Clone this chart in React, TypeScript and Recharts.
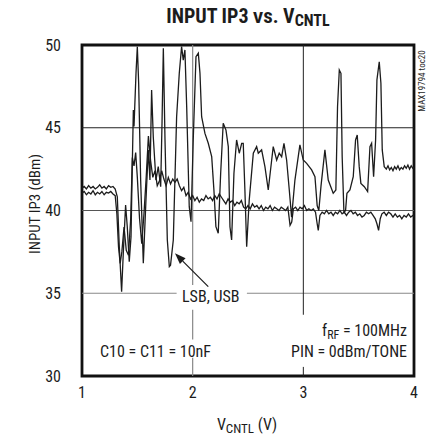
import React from "react";
import {
  LineChart,
  Line,
  XAxis,
  YAxis,
  ReferenceLine,
  ReferenceArea,
} from "recharts";

// V_CNTL (V), input IP3 (dBm)
const upperFlat = [
  [1.0, 41.35], [1.02, 41.45], [1.04, 41.3], [1.06, 41.5], [1.08, 41.35], [1.1, 41.45],
  [1.12, 41.3], [1.14, 41.4], [1.16, 41.55], [1.18, 41.35], [1.2, 41.45], [1.22, 41.3],
  [1.24, 41.5], [1.26, 41.4], [1.28, 41.45], [1.3, 41.3],
];
const upperSpikes = [
  [1.319, 40.83], [1.337, 37.81], [1.358, 35.09], [1.373, 37.41], [1.394, 40.33], [1.409, 39.02],
  [1.427, 36.91], [1.443, 38.42], [1.452, 41.84], [1.464, 46.07], [1.47, 45.07], [1.488, 48.29],
  [1.5, 49.9], [1.512, 47.69], [1.53, 41.84], [1.554, 36.81], [1.578, 40.63], [1.599, 43.66],
  [1.614, 41.84], [1.629, 47.28], [1.644, 44.46], [1.668, 41.84], [1.689, 42.65], [1.711, 41.44],
  [1.723, 45.27], [1.735, 49.8], [1.75, 44.26], [1.771, 38.22], [1.789, 36.61], [1.8, 36.7],
  [1.825, 38.22], [1.855, 45.67], [1.879, 48.29], [1.9, 49.9], [1.915, 49.09], [1.93, 49.7],
  [1.946, 46.27], [1.969, 40.23], [1.985, 39.32], [2.005, 44.26], [2.03, 49.29], [2.051, 49.5],
  [2.066, 48.29], [2.081, 45.67], [2.111, 44.66], [2.141, 44.06], [2.172, 43.25], [2.192, 41.24],
  [2.21, 39.02], [2.231, 38.62], [2.253, 42.25], [2.276, 45.27], [2.301, 44.86], [2.322, 43.86],
  [2.337, 39.02], [2.352, 38.22], [2.373, 42.25], [2.397, 44.26], [2.421, 43.46], [2.443, 44.06],
  [2.457, 44.06], [2.472, 41.24], [2.488, 37.81], [2.511, 40.63],
];
const upperMid = [
  [2.548, 43.46], [2.578, 43.86], [2.593, 43.46], [2.623, 43.66], [2.653, 42.65], [2.683, 41.24],
  [2.714, 43.05], [2.728, 43.86], [2.759, 43.05], [2.782, 43.46], [2.804, 43.25], [2.825, 44.06],
  [2.849, 43.05], [2.873, 41.24], [2.894, 39.6], [2.924, 41.84], [2.969, 43.96], [2.999, 43.05],
  [3.03, 42.85], [3.075, 42.45], [3.105, 42.04], [3.125, 40.3], [3.14, 40.0], [3.16, 41.5],
  [3.195, 43.66], [3.225, 41.84], [3.27, 41.04], [3.294, 41.24], [3.309, 46.27], [3.325, 48.49],
  [3.34, 48.29], [3.351, 43.25], [3.367, 39.83], [3.382, 40.03], [3.394, 41.04], [3.421, 41.24],
  [3.451, 42.04], [3.472, 44.26], [3.487, 44.56], [3.505, 42.65], [3.52, 41.64], [3.551, 41.44],
  [3.581, 41.14], [3.602, 43.86], [3.617, 44.06], [3.635, 42.04], [3.653, 44.26], [3.665, 47.89],
  [3.686, 48.99], [3.701, 47.69], [3.713, 43.66], [3.731, 42.65],
];
const upperTail = [
  [3.75, 42.5], [3.765, 42.7], [3.78, 42.45], [3.795, 42.6], [3.81, 42.4], [3.825, 42.65],
  [3.84, 42.5], [3.855, 42.7], [3.87, 42.45], [3.885, 42.6], [3.9, 42.5], [3.915, 42.7],
  [3.93, 42.55], [3.945, 42.75], [3.96, 42.5], [3.975, 42.7], [3.99, 42.55], [4.0, 42.6],
];

const lowerFlat = [
  [1.0, 41.05], [1.02, 41.15], [1.04, 40.95], [1.06, 41.1], [1.08, 41.0], [1.1, 41.2],
  [1.12, 40.95], [1.14, 41.1], [1.16, 41.0], [1.18, 41.15], [1.2, 40.95], [1.22, 41.1],
  [1.24, 41.05], [1.26, 41.15], [1.28, 41.0], [1.3, 40.9],
];
const lowerSpikes = [
  [1.315, 39.8], [1.33, 37.8], [1.345, 36.8], [1.36, 37.5], [1.38, 39.0], [1.4, 37.6],
  [1.42, 37.3], [1.44, 39.5], [1.455, 43.2], [1.47, 42.7], [1.485, 43.5], [1.5, 42.0],
  [1.52, 39.5], [1.54, 38.0], [1.56, 39.8], [1.58, 42.0], [1.6, 44.5], [1.62, 43.0],
  [1.64, 42.0], [1.66, 42.4], [1.68, 41.5], [1.7, 41.8], [1.72, 42.4], [1.74, 41.9],
  [1.76, 41.5], [1.78, 42.0], [1.8, 41.6], [1.82, 41.9], [1.84, 41.7], [1.86, 41.9],
  [1.88, 41.5], [1.9, 41.2], [1.92, 41.4], [1.94, 40.9], [1.96, 41.1], [1.98, 40.7],
];
const lowerMid = [
  [2.0, 40.9], [2.02, 40.6], [2.04, 40.8], [2.06, 40.5], [2.08, 40.7], [2.1, 40.6],
  [2.12, 40.9], [2.14, 40.7], [2.16, 40.8], [2.18, 40.6], [2.2, 40.9], [2.22, 40.7],
  [2.24, 41.0], [2.26, 40.8], [2.28, 40.6], [2.3, 40.4], [2.32, 40.7], [2.34, 40.5],
  [2.36, 40.6], [2.38, 40.3], [2.4, 40.5], [2.42, 40.4], [2.44, 40.6], [2.46, 40.2],
  [2.48, 40.1], [2.5, 40.3], [2.52, 40.1], [2.54, 40.4], [2.56, 40.2], [2.58, 40.3],
  [2.6, 40.1], [2.62, 40.3], [2.64, 40.0], [2.66, 40.2], [2.68, 40.1], [2.7, 40.3],
  [2.72, 40.0], [2.74, 40.2], [2.76, 40.1], [2.78, 40.0], [2.8, 40.2], [2.82, 40.1],
  [2.84, 40.0], [2.86, 40.2], [2.88, 39.1], [2.895, 39.3], [2.91, 40.1], [2.93, 40.2],
  [2.95, 40.0], [2.97, 40.2], [2.99, 40.1], [3.01, 40.3], [3.03, 40.0], [3.05, 40.1],
  [3.07, 40.0], [3.09, 40.1], [3.11, 39.9], [3.125, 39.2], [3.135, 38.8], [3.15, 39.7],
];
const lowerTail = [
  [3.17, 39.9], [3.19, 39.8], [3.21, 40.0], [3.23, 39.8], [3.25, 39.9], [3.27, 39.7],
  [3.29, 39.9], [3.31, 39.8], [3.33, 40.0], [3.35, 39.8], [3.37, 39.9], [3.39, 39.7],
  [3.41, 39.9], [3.43, 40.0], [3.45, 39.8], [3.47, 39.9], [3.49, 39.7], [3.51, 39.8],
  [3.53, 39.6], [3.55, 39.7], [3.57, 39.9], [3.59, 39.8], [3.61, 39.9], [3.63, 39.7],
  [3.65, 39.5], [3.665, 39.2], [3.68, 38.8], [3.695, 39.5], [3.71, 39.8], [3.73, 39.9],
  [3.75, 39.7], [3.77, 39.9], [3.79, 39.8], [3.81, 39.6], [3.83, 39.8], [3.85, 39.6],
  [3.87, 39.7], [3.89, 39.5], [3.91, 39.7], [3.93, 39.6], [3.95, 39.8], [3.97, 39.6],
  [3.99, 39.7], [4.0, 39.6],
];

const xTicks = [1, 2, 3, 4];
const yTicks = [30, 35, 40, 45, 50];

const toRows = (pts: number[][]) => pts.map(([v, db]) => ({ v, db }));
const upperData = toRows([...upperFlat, ...upperSpikes, ...upperMid, ...upperTail]);
const lowerData = toRows([...lowerFlat, ...lowerSpikes, ...lowerMid, ...lowerTail]);

const FONT =
  '"Liberation Sans Narrow", "Arial Narrow", "Roboto Condensed", "DejaVu Sans Condensed", sans-serif';
const INK = "#1c1c1c";

// leader line from the "LSB, USB" note to the curves
const Arrow = (props: any) => {
  const { x1, y1, x2, y2 } = props;
  const a = Math.atan2(y2 - y1, x2 - x1);
  const len = 11;
  const half = 4;
  const bx = x2 - len * Math.cos(a);
  const by = y2 - len * Math.sin(a);
  const px = -Math.sin(a) * half;
  const py = Math.cos(a) * half;
  return (
    <g>
      <line x1={x1} y1={y1} x2={bx} y2={by} stroke={INK} strokeWidth={1.3} />
      <polygon
        points={`${x2},${y2} ${bx + px},${by + py} ${bx - px},${by - py}`}
        fill={INK}
      />
    </g>
  );
};

const txt = (extra: React.CSSProperties): React.CSSProperties => ({
  position: "absolute",
  fontFamily: FONT,
  color: INK,
  whiteSpace: "nowrap",
  lineHeight: 1,
  ...extra,
});

export default function App() {
  return (
    <div
      style={{
        position: "absolute",
        left: 0,
        top: 0,
        width: 430,
        height: 439,
        background: "#fff",
      }}
    >
      <LineChart
        width={430}
        height={439}
        margin={{ top: 45, right: 16, bottom: 33, left: 22 }}
      >
        <XAxis
          type="number"
          dataKey="v"
          domain={[1, 4]}
          ticks={xTicks}
          allowDataOverflow
          axisLine={false}
          tickLine={false}
          tickSize={0}
          tickMargin={11}
          height={30}
          tick={{ fontSize: 16, fill: INK, fontFamily: FONT }}
        />
        <YAxis
          type="number"
          dataKey="db"
          domain={[30, 50]}
          ticks={yTicks}
          allowDataOverflow
          axisLine={false}
          tickLine={false}
          tickSize={0}
          tickMargin={21}
          width={60}
          tick={{ fontSize: 16, fill: INK, fontFamily: FONT }}
        />

        <ReferenceLine y={45} stroke="#222" strokeWidth={1} />
        <ReferenceLine y={40} stroke="#555" strokeWidth={1} />
        <ReferenceLine segment={[{ x: 1, y: 35 }, { x: 1.855, y: 35 }]} stroke="#888" strokeWidth={1.2} />
        <ReferenceLine segment={[{ x: 2.49, y: 35 }, { x: 4, y: 35 }]} stroke="#888" strokeWidth={1.2} />
        <ReferenceLine segment={[{ x: 2, y: 50 }, { x: 2, y: 35.5 }]} stroke="#888" strokeWidth={1.2} />
        <ReferenceLine segment={[{ x: 2, y: 34.0 }, { x: 2, y: 32.2 }]} stroke="#888" strokeWidth={1.2} />
        <ReferenceLine segment={[{ x: 2, y: 31.1 }, { x: 2, y: 30 }]} stroke="#888" strokeWidth={1.2} />
        <ReferenceLine segment={[{ x: 3, y: 50 }, { x: 3, y: 33.7 }]} stroke="#222" strokeWidth={1} />
        <ReferenceLine segment={[{ x: 3, y: 30.55 }, { x: 3, y: 30 }]} stroke="#222" strokeWidth={1} />

        <Line
          data={lowerData}
          dataKey="db"
          type="linear"
          stroke={INK}
          strokeWidth={1.3}
          dot={false}
          isAnimationActive={false}
        />
        <Line
          data={upperData}
          dataKey="db"
          type="linear"
          stroke={INK}
          strokeWidth={1.3}
          dot={false}
          isAnimationActive={false}
        />

        <ReferenceLine
          segment={[{ x: 2.141, y: 35.4 }, { x: 1.84, y: 37.41 }]}
          shape={<Arrow />}
        />
        <ReferenceArea
          x1={1}
          x2={4}
          y1={30}
          y2={50}
          fill="none"
          fillOpacity={0}
          stroke="#111"
          strokeWidth={2.8}
        />
      </LineChart>

      <div
        style={txt({
          left: 82,
          width: 332,
          top: 6,
          textAlign: "center",
          fontSize: 20,
          fontWeight: 700,
        })}
      >
        INPUT IP3 <span style={{ fontVariant: "small-caps" }}>vs.</span> V
        <span style={{ fontSize: 16, position: "relative", top: 3 }}>CNTL</span>
      </div>

      <div
        style={txt({
          left: 35,
          top: 204,
          fontSize: 15,
          transform: "translate(-50%, -50%) rotate(-90deg)",
        })}
      >
        INPUT IP3 (dBm)
      </div>

      <div style={txt({ left: 0, width: 494, top: 417, textAlign: "center", fontSize: 16 })}>
        V<span style={{ fontSize: 13, position: "relative", top: 3 }}>CNTL</span> (V)
      </div>

      <div
        style={txt({
          left: 422,
          top: 81,
          fontSize: 9,
          transform: "translate(-50%, -50%) rotate(-90deg)",
        })}
      >
        MAX19794 toc20
      </div>

      <div style={txt({ left: 182, top: 289, fontSize: 16 })}>LSB, USB</div>
      <div style={txt({ left: 100, top: 344, fontSize: 16 })}>C10 = C11 = 10nF</div>
      <div style={txt({ right: 23, top: 323, fontSize: 16 })}>
        f<span style={{ fontSize: 12, position: "relative", top: 3 }}>RF</span> = 100MHz
      </div>
      <div style={txt({ right: 23, top: 344, fontSize: 16 })}>PIN = 0dBm/TONE</div>
    </div>
  );
}
